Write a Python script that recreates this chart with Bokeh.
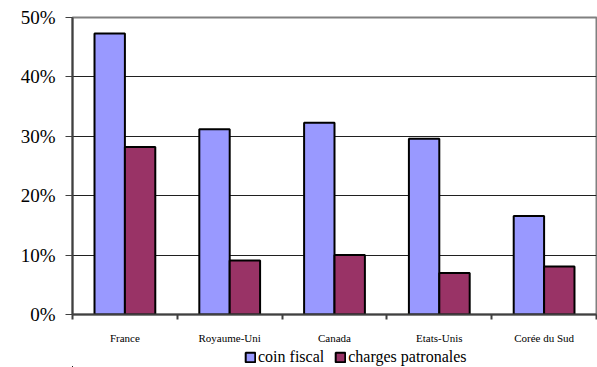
from bokeh.plotting import figure
from bokeh.layouts import column
from bokeh.models import ColumnDataSource, FixedTicker, NumeralTickFormatter, Range1d, Legend, LegendItem
from bokeh.embed import file_html
from bokeh.resources import INLINE

categories = ["France", "Royaume-Uni", "Canada", "Etats-Unis", "Corée du Sud"]
coin_fiscal = [0.473, 0.312, 0.323, 0.296, 0.166]
charges_patronales = [0.282, 0.091, 0.100, 0.070, 0.081]
series_names = ["coin fiscal", "charges patronales"]
colors = ["#9999FF", "#993366"]

FONT = "Liberation Serif"
n = len(categories)
bw = 0.29

p = figure(width=597, height=346, output_backend="svg", toolbar_location=None,
           x_range=Range1d(0, n), y_range=Range1d(0, 0.5),
           min_border_left=72, min_border_right=1, min_border_top=17, min_border_bottom=30)
p.background_fill_color = "white"
p.border_fill_color = "white"
p.outline_line_color = "#808080"
p.outline_line_width = 2

centers = [i + 0.5 for i in range(n)]
src1 = ColumnDataSource(dict(x=[c - bw / 2 for c in centers], top=coin_fiscal))
src2 = ColumnDataSource(dict(x=[c + bw / 2 for c in centers], top=charges_patronales))
bar_style = dict(width=bw, line_color="black", line_width=2)
r1 = p.vbar(x="x", top="top", source=src1, fill_color=colors[0], **bar_style)
r2 = p.vbar(x="x", top="top", source=src2, fill_color=colors[1], **bar_style)

# x axis
p.xaxis.ticker = FixedTicker(ticks=centers, minor_ticks=list(range(n + 1)))
p.xaxis.major_label_overrides = {c: cat for c, cat in zip(centers, categories)}
p.xaxis.major_tick_out = 0
p.xaxis.major_tick_in = 0
p.xaxis.minor_tick_out = 5
p.xaxis.minor_tick_in = 0
p.xaxis.minor_tick_line_color = "#404040"
p.xaxis.minor_tick_line_width = 2
p.xaxis.axis_line_color = "#404040"
p.xaxis.axis_line_width = 2
p.xaxis.major_label_text_font = FONT
p.xaxis.major_label_text_font_size = "11px"
p.xaxis.major_label_text_color = "black"
p.xaxis.major_label_standoff = 12

# y axis
p.yaxis.ticker = FixedTicker(ticks=[0, 0.1, 0.2, 0.3, 0.4, 0.5])
p.yaxis.formatter = NumeralTickFormatter(format="0%")
p.yaxis.major_tick_out = 7
p.yaxis.major_tick_in = 0
p.yaxis.minor_tick_line_color = None
p.yaxis.major_tick_line_color = "#404040"
p.yaxis.major_tick_line_width = 1
p.yaxis.axis_line_color = "#404040"
p.yaxis.axis_line_width = 2
p.yaxis.major_label_text_font = FONT
p.yaxis.major_label_text_font_size = "19px"
p.yaxis.major_label_text_color = "black"
p.yaxis.major_label_standoff = 10

p.xgrid.grid_line_color = None
p.ygrid.ticker = FixedTicker(ticks=[0.1, 0.2, 0.3, 0.4])
p.ygrid.grid_line_color = "#202020"
p.ygrid.grid_line_width = 1

# legend strip below the chart
lg = figure(width=597, height=21, output_backend="svg", toolbar_location=None,
            x_range=Range1d(100, 101), y_range=Range1d(100, 101),
            min_border_left=0, min_border_right=0, min_border_top=0, min_border_bottom=0)
lg.axis.visible = False
lg.grid.visible = False
lg.outline_line_color = None
lg.background_fill_color = "white"
lg.border_fill_color = "white"
l1 = lg.vbar(x="x", top="top", source=src1, fill_color=colors[0], **bar_style)
l2 = lg.vbar(x="x", top="top", source=src2, fill_color=colors[1], **bar_style)

legend = Legend(items=[LegendItem(label=series_names[0], renderers=[l1]),
                       LegendItem(label=series_names[1], renderers=[l2])],
                orientation="horizontal", location=(172, 1),
                label_text_font="serif", label_text_font_size="16px",
                label_text_color="black",
                glyph_width=12, glyph_height=12, label_standoff=2, spacing=10,
                padding=0, margin=0, border_line_color=None, background_fill_alpha=0)
lg.add_layout(legend, "center")

layout = column(p, lg, spacing=0)
open("out.html", "w").write(file_html(layout, INLINE))
